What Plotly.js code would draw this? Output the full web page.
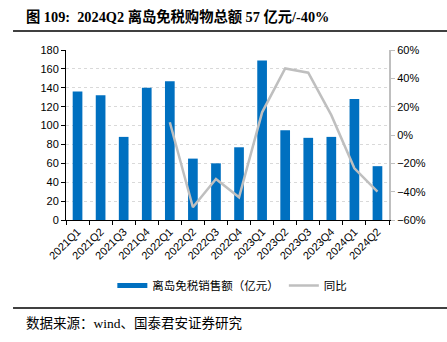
<!DOCTYPE html>
<html><head><meta charset="utf-8">
<script src="https://cdn.plot.ly/plotly-3.0.1.min.js"></script>
<style>html,body{margin:0;padding:0;background:#fff;}#c{width:447px;height:342px;}</style>
</head><body><div id="c"></div>
<script>
const categories = ['2021Q1','2021Q2','2021Q3','2021Q4','2022Q1','2022Q2','2022Q3','2022Q4','2023Q1','2023Q2','2023Q3','2023Q4','2024Q1','2024Q2'];
const sales = [136,132,88,140,147,65,60,77,169,95,87,88,128,57];
const yoy = [null,null,null,null,0.09,-0.51,-0.31,-0.44,0.16,0.47,0.44,0.14,-0.235,-0.40];
const seriesNames = ['离岛免税销售额（亿元）','同比'];
const titleText = '图 109:  2024Q2 离岛免税购物总额 57 亿元/-40%';
const sourceText = '数据来源：wind、国泰君安证券研究';

const cjk = '"Liberation Serif", "Noto Sans CJK SC", serif';
const sans = 'Liberation Sans, Arial, sans-serif';

const traces = [
  {type:'bar', x:categories, y:sales, marker:{color:'#0070C0'}, width:0.42, showlegend:false, hoverinfo:'skip'},
  {type:'scatter', mode:'lines', x:[null], y:[null], name:seriesNames[0], line:{color:'#0070C0', width:5}},
  {type:'scatter', mode:'lines', x:categories, y:yoy, yaxis:'y2', name:seriesNames[1], line:{color:'#BFBFBF', width:2.5}, connectgaps:false}
];

const layout = {
  width:447, height:342,
  margin:{l:66, r:58, t:50, b:122},
  paper_bgcolor:'#fff', plot_bgcolor:'#fff',
  showlegend:true,
  legend:{orientation:'h', x:0.515, xanchor:'center', y:-0.385, yanchor:'middle',
          font:{family:'"Noto Sans CJK SC", sans-serif', size:11.5, color:'#000'},
          itemwidth:30, tracegroupgap:0},
  xaxis:{type:'category', tickangle:-45, tickfont:{family:sans, size:11, color:'#000'},
         showline:true, linecolor:'#000', linewidth:1, ticks:'outside', ticklen:4, tickcolor:'#000',
         tickson:'boundaries', showgrid:false, fixedrange:true},
  yaxis:{range:[0,180], dtick:20, tickfont:{family:sans, size:11, color:'#000'},
         showline:true, linecolor:'#000', linewidth:1, ticks:'outside', ticklen:4, tickcolor:'#000',
         showgrid:true, gridcolor:'#d9d9d9', griddash:'dot', gridwidth:1, zeroline:false},
  yaxis2:{overlaying:'y', side:'right', range:[-0.6,0.6], dtick:0.2, tickformat:'.0%',
          tickfont:{family:sans, size:11, color:'#000'},
          showline:true, linecolor:'#BFBFBF', linewidth:2, ticks:'outside', ticklen:4, tickcolor:'#BFBFBF',
          showgrid:false, zeroline:false},
  annotations:[
    {text:'<b>'+titleText+'</b>', xref:'paper', yref:'paper', x:-0.13, y:1.2, xanchor:'left', yanchor:'middle',
     showarrow:false, font:{family:cjk, size:14.3, color:'#000'}},
    {text:sourceText, xref:'paper', yref:'paper', x:-0.13, y:-0.606, xanchor:'left', yanchor:'middle',
     showarrow:false, font:{family:cjk, size:13.5, color:'#000'}}
  ],
  shapes:[
    {type:'line', xref:'paper', yref:'paper', x0:-0.164, x1:1.18, y0:1.112, y1:1.112, line:{color:'#000', width:1.5}},
    {type:'line', xref:'paper', yref:'paper', x0:-0.164, x1:1.18, y0:-0.518, y1:-0.518, line:{color:'#000', width:1.5}}
  ]
};
Plotly.newPlot('c', traces, layout, {staticPlot:true, displayModeBar:false});
</script></body></html>
